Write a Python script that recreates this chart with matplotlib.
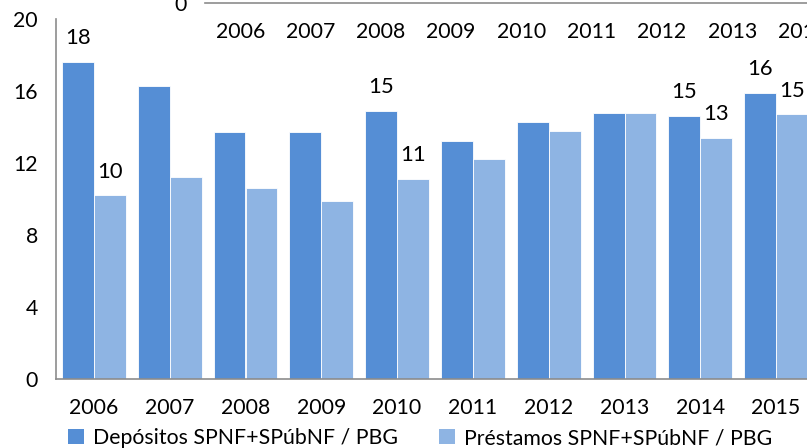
import matplotlib
matplotlib.use("Agg")
import matplotlib.pyplot as plt
import numpy as np
from matplotlib.patches import Patch

plt.rcParams['font.family'] = ['Lato', 'DejaVu Sans']

years = ['2006', '2007', '2008', '2009', '2010', '2011', '2012', '2013', '2014', '2015']
depositos = [17.6, 16.3, 13.7, 13.7, 14.9, 13.2, 14.3, 14.8, 14.6, 15.9]
prestamos = [10.2, 11.2, 10.6, 9.9, 11.1, 12.2, 13.8, 14.8, 13.4, 14.7]
label_dep = {0: '18', 4: '15', 8: '15', 9: '16'}
label_pre = {0: '10', 4: '11', 8: '13', 9: '15'}
top_years = ['2006', '2007', '2008', '2009', '2010', '2011', '2012', '2013', '2014']

names = ['Depósitos SPNF+SPúbNF / PBG', 'Préstamos SPNF+SPúbNF / PBG']
c_dark = '#558ED5'
c_light = '#8EB4E3'
gray = '#8C8C8C'
fs = 15.3

W, H = 807, 448
fig = plt.figure(figsize=(W / 100, H / 100), dpi=100)

# main axes
ax = fig.add_axes([56 / W, 69 / H, 758 / W, 360 / H])
x = np.arange(len(years))
bw = 0.42
b1 = ax.bar(x - bw / 2, depositos, bw, color=c_dark, edgecolor='white', linewidth=0.6)
b2 = ax.bar(x + bw / 2, prestamos, bw, color=c_light, edgecolor='white', linewidth=0.6)
for i, t in label_dep.items():
    ax.annotate(t, (x[i] - bw / 2, depositos[i]), xytext=(0, 10), textcoords='offset points',
                ha='center', va='bottom', fontsize=fs + 0.5)
for i, t in label_pre.items():
    ax.annotate(t, (x[i] + bw / 2, prestamos[i]), xytext=(0, 10), textcoords='offset points',
                ha='center', va='bottom', fontsize=fs + 0.5)
ax.set_xlim(-0.5, 9.5)
ax.set_ylim(0, 20)
ax.set_yticks([0, 4, 8, 12, 16, 20])
ax.set_xticks(x)
ax.set_xticklabels(years)
ax.tick_params(axis='both', length=0, labelsize=fs)
ax.tick_params(axis='y', pad=13)
ax.tick_params(axis='x', pad=14)
for s in ['top', 'right']:
    ax.spines[s].set_visible(False)
for s in ['left', 'bottom']:
    ax.spines[s].set_color(gray)
    ax.spines[s].set_linewidth(1.2)

# partial chart visible at top
ax2 = fig.add_axes([205 / W, (H - 3) / H, 703 / W, 0.3])
ax2.set_xlim(-0.5, 9.5)
ax2.set_ylim(0, 1)
ax2.set_xticks(np.arange(len(top_years)))
ax2.set_xticklabels(top_years)
ax2.set_yticks([0])
ax2.set_yticklabels(['0'])
ax2.tick_params(axis='both', length=0, labelsize=fs)
ax2.tick_params(axis='y', pad=13)
ax2.tick_params(axis='x', pad=14)
for s in ['top', 'right', 'left']:
    ax2.spines[s].set_visible(False)
ax2.spines['bottom'].set_color(gray)
ax2.spines['bottom'].set_linewidth(1.2)
ax2.patch.set_visible(False)

handles = [Patch(facecolor=c_dark), Patch(facecolor=c_light)]
fig.legend(handles, names, loc='center', bbox_to_anchor=(420 / W, 1 - 438 / H), ncol=2,
           frameon=False, fontsize=fs, handlelength=0.75, handleheight=0.75,
           handletextpad=0.45, columnspacing=1.9, borderaxespad=0)

fig.savefig('out.png', dpi=100)
